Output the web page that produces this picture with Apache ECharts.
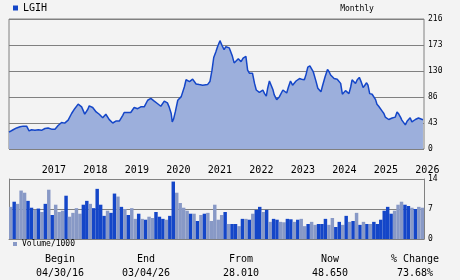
<!DOCTYPE html>
<html><head><meta charset="utf-8">
<script src="https://cdn.jsdelivr.net/npm/echarts@6/dist/echarts.min.js"></script>
<style>html,body{margin:0;padding:0;background:#f3f3f3;}#c{width:460px;height:280px;}</style>
</head><body><div id="c"></div>
<script>
// ---- data ----
const ticker = 'LGIH';
const periodLabel = 'Monthly';
const startYear = 2016, startMonth = 4, monthCount = 120; // Apr 2016 .. Mar 2026
// price readings: month offset from 30 Apr 2016, closing price
const priceMonth = [0,1.2,2.2,3.2,4.1,5.1,5.5,5.8,6.5,7.5,8.5,9.4,10.4,11.3,12.3,13.3,14.2,15.2,16.1,17.1,18.1,19.0,20.0,21.0,21.9,22.8,23.2,24.2,25.2,26.1,27.1,28.0,29.0,30.0,30.9,31.9,32.9,33.3,35.2,36.2,37.2,38.1,39.1,40.1,41.0,42.0,42.9,43.9,44.9,45.8,46.3,46.9,47.2,47.6,48.1,48.8,49.8,50.2,50.7,51.2,52.2,53.1,54.1,55.0,56.0,57.4,58.1,58.7,59.2,59.8,60.3,61.0,61.6,62.2,62.7,63.2,63.7,64.6,65.1,65.6,66.3,67.1,67.7,68.5,69.0,69.5,70.4,71.0,71.5,72.0,72.4,72.9,73.4,73.9,74.4,74.8,75.3,75.8,76.3,76.7,77.4,78.2,79.2,79.6,80.3,80.8,81.4,82.0,83.0,84.0,84.6,85.4,85.9,86.4,87.0,87.5,88.0,88.8,89.3,89.7,90.2,90.7,91.4,92.1,92.6,93.0,94.0,94.9,95.4,95.9,96.4,96.8,97.3,97.8,98.3,98.8,99.2,99.7,100.2,100.7,101.3,101.8,102.4,102.9,103.4,103.8,104.3,105.0,105.5,106.0,106.4,106.9,107.4,107.9,108.4,108.8,109.3,109.8,110.3,110.8,111.2,111.7,112.2,112.7,113.2,113.6,114.1,114.6,115.1,115.6,116.0,116.5,117.0,117.5,118.0,118.4,118.9,119.7];
const priceValue = [28.01,32,35,37,38,38,37,30,32,31,32,31,34,35,33,33,39,44,43,48,59,67,74.5,70,58,66,71.6,69,61.6,57.7,52,57.7,48.8,43.2,46.5,46.5,56,60.6,60.6,69,67,70,70,81,84,79.5,75.6,71,79.5,76.6,70,59,45,50,62,81,87,89,103,115,112,116,108,107,106,107,112,131,152,161,170,180,172,165,170,171.5,168,154,143,145,150,145,151,154,131,126,126,109,98,95,94,96,98,92,88,101,113,106,99,90,82,87,98,96,93,103,113,106,113,117,116,115,124,136,138,138,128,112,101,98,95,106,120,132,128,123,117,116,116,109,91,94,97,95,92,103,115,112,109,115,119,112,102,106,110,106,92,91,91,82,74.5,71,68,63,59,53,50,49,50,51.5,51.5,53,61.6,58,53,48,45,40,46,49,52,45,48,49,50.5,51.5,50,48.65];
// monthly volume (thousands) and whether the bar is drawn dark (1) or light (0)
const volume = [7.5,8.7,8.2,11.3,10.8,8.9,7.3,6.8,7.1,6.3,8.2,11.5,5.6,8.0,6.3,6.6,10.1,5.2,6.1,7.2,5.9,8.0,8.9,8.2,7.2,11.7,8.0,5.4,6.6,6.1,10.6,9.9,7.5,7.0,5.6,7.2,4.7,5.9,4.7,4.5,5.2,4.9,6.3,5.2,4.7,4.5,5.4,13.4,10.8,8.4,7.3,6.6,5.9,5.9,4.2,5.6,5.9,6.1,4.2,8.0,4.5,5.6,6.3,3.5,3.5,3.5,3.0,4.7,4.7,4.5,5.9,6.8,7.5,6.3,6.8,4.0,4.7,4.5,4.0,3.9,4.7,4.6,4.0,4.5,4.7,3.0,3.5,4.0,3.3,3.5,3.5,4.7,3.3,4.9,2.8,4.0,3.3,5.4,4.0,4.2,6.1,3.3,4.0,3.5,3.5,4.0,3.5,4.5,6.6,7.5,5.9,6.6,8.0,8.7,8.0,7.7,7.3,7.0,7.5,7.3];
const volumeDark = [0,1,0,0,0,1,1,0,1,0,1,0,1,0,0,0,1,0,0,0,0,1,1,0,1,1,1,1,0,1,1,0,1,0,1,0,0,1,0,1,0,0,1,1,1,0,1,1,0,0,0,0,1,0,1,0,1,0,0,0,0,0,1,0,1,1,0,1,0,1,0,1,1,0,1,0,1,1,0,0,1,1,0,1,0,0,1,0,0,1,1,1,0,0,1,1,0,1,0,1,0,1,0,1,0,1,1,1,1,1,1,0,0,0,1,1,0,1,0,0];
const priceTicks = [0,43,86,130,173,216];
const volumeTicks = [0,7,14];
const yearLabels = ['2017','2018','2019','2020','2021','2022','2023','2024','2025','2026'];
const footerLabels = ['Begin','End','From','Now','% Change'];
const footerValues = ['04/30/16','03/04/26','28.010','48.650','73.68%'];

// ---- build ----
const months = [];
for (let k = 0; k < monthCount; k++) {
  const m = (startMonth - 1 + k) % 12 + 1;
  const y = startYear + Math.floor((startMonth - 1 + k) / 12);
  months.push(y + '-' + String(m).padStart(2, '0'));
}
const FONT = 'DejaVu Sans Mono';
const GRAY = '#808080';
const DARK = '#1446c8';
const LIGHT = '#8899c6';
const chart = echarts.init(document.getElementById('c'), null, {renderer: 'canvas'});
const priceData = priceMonth.map((m, i) => [m, priceValue[i]]);
const volData = volume.map((v, i) => ({value: v, itemStyle: {color: volumeDark[i] ? DARK : LIGHT}}));
const footerX = [60, 146, 241, 330, 415];
const graphics = [{type: 'text', x: 357, y: 9, style: {text: periodLabel, align: 'center', verticalAlign: 'middle', textAlign: 'center', textVerticalAlign: 'middle', fontSize: 8, fontFamily: FONT, fill: '#000'}}];
footerLabels.forEach((t, i) => {
  graphics.push({type: 'text', x: footerX[i], y: 259, style: {text: t, align: 'center', verticalAlign: 'middle', textAlign: 'center', textVerticalAlign: 'middle', fontSize: 10, fontFamily: FONT, fill: '#000'}});
  graphics.push({type: 'text', x: footerX[i], y: 273, style: {text: footerValues[i], align: 'center', verticalAlign: 'middle', textAlign: 'center', textVerticalAlign: 'middle', fontSize: 10, fontFamily: FONT, fill: '#000'}});
});
chart.setOption({
  backgroundColor: '#f3f3f3',
  animation: false,
  textStyle: {fontFamily: FONT},
  legend: [
    {data: [ticker], left: 13, top: 3, padding: 0, icon: 'rect', itemWidth: 5, itemHeight: 5, selectedMode: false,
     textStyle: {fontSize: 10, fontFamily: FONT, color: '#000'}},
    {data: ['Volume/1000'], left: 13, top: 240, padding: 0, icon: 'rect', itemWidth: 4, itemHeight: 4, selectedMode: false,
     textStyle: {fontSize: 8, fontFamily: FONT, color: '#000'}}
  ],
  grid: [
    {left: 9, right: 36, top: 19, height: 130, show: true, borderColor: GRAY, borderWidth: 1, backgroundColor: 'transparent'},
    {left: 9, right: 36, top: 179, height: 60}
  ],
  xAxis: [
    {type: 'value', gridIndex: 0, min: 0, max: monthCount, show: false},
    {type: 'category', gridIndex: 1, data: months, position: 'top', boundaryGap: true,
     axisLine: {show: true, lineStyle: {color: GRAY, width: 1}}, axisTick: {show: false},
     axisLabel: {interval: (i, v) => yearLabels.includes(v.slice(0, 4)) && v.endsWith('-01'),
       formatter: v => v.slice(0, 4), align: 'left', margin: 4, fontSize: 10, fontFamily: FONT, color: '#000'}}
  ],
  yAxis: [
    {type: 'value', gridIndex: 0, position: 'right', min: priceTicks[0], max: priceTicks[priceTicks.length - 1], interval: 43.2,
     axisLine: {show: false}, axisTick: {show: false},
     splitLine: {show: true, lineStyle: {color: GRAY, width: 1}},
     axisLabel: {margin: 4, fontSize: 8, fontFamily: FONT, color: '#000', formatter: v => String(Math.round(v))}},
    {type: 'value', gridIndex: 1, position: 'right', min: volumeTicks[0], max: volumeTicks[volumeTicks.length - 1], interval: 7,
     axisLine: {show: true, lineStyle: {color: GRAY, width: 1}}, axisTick: {show: false},
     splitLine: {show: true, showMinLine: false, lineStyle: {color: GRAY, width: 1}},
     axisLabel: {margin: 4, fontSize: 8, fontFamily: FONT, color: '#000'}},
    {type: 'value', gridIndex: 1, position: 'left', min: 0, max: 14,
     axisLine: {show: true, lineStyle: {color: GRAY, width: 1}}, axisTick: {show: false},
     splitLine: {show: false}, axisLabel: {show: false}}
  ],
  series: [
    {name: ticker, type: 'line', xAxisIndex: 0, yAxisIndex: 0, data: priceData, showSymbol: false, symbol: 'none',
     lineStyle: {color: DARK, width: 1.5}, itemStyle: {color: DARK},
     areaStyle: {color: '#9cafdc', opacity: 1}},
    {name: 'Volume/1000', type: 'bar', xAxisIndex: 1, yAxisIndex: 1, data: volData,
     barCategoryGap: '0%', barGap: '0%', itemStyle: {color: LIGHT}}
  ],
  graphic: graphics
});
</script></body></html>
